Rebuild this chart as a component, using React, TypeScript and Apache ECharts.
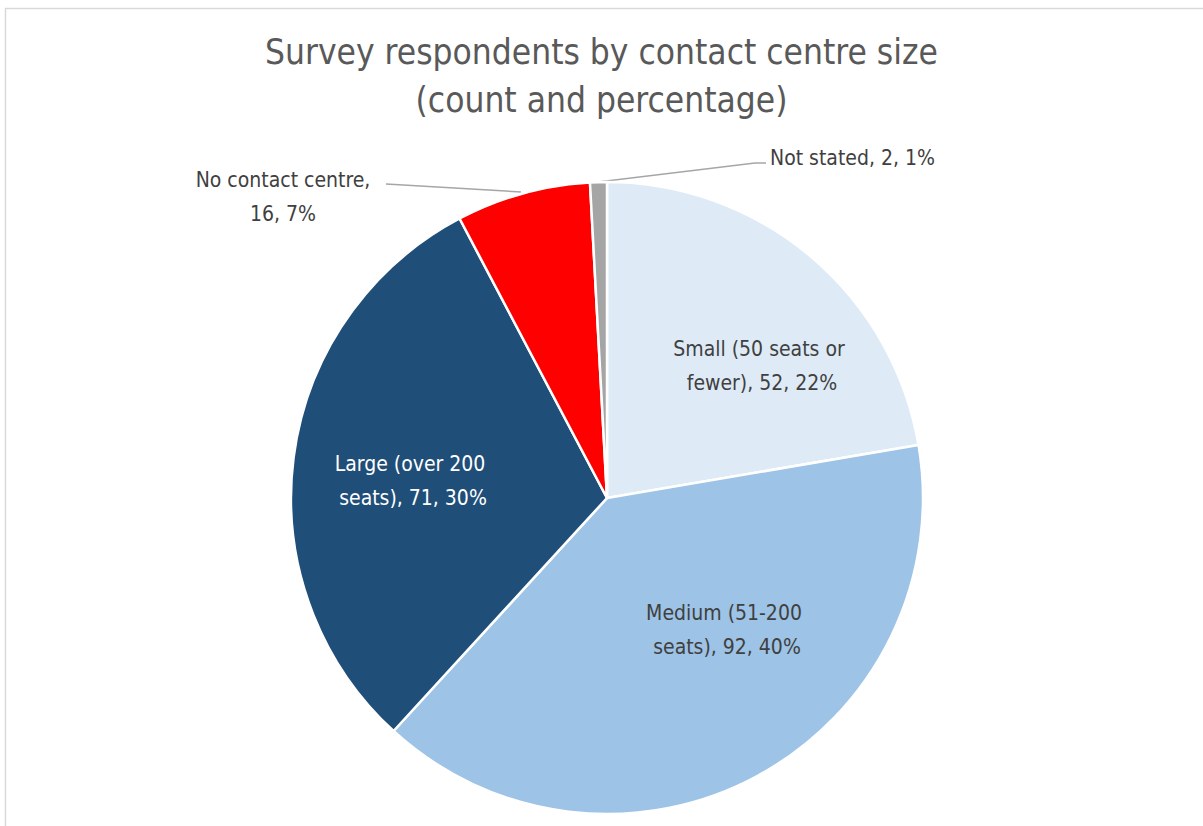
import React, { useEffect, useRef } from "react";
import * as echarts from "echarts";

const categories = [
  "Small (50 seats or fewer)",
  "Medium (51-200 seats)",
  "Large (over 200 seats)",
  "No contact centre",
  "Not stated",
];
const counts = [52, 92, 71, 16, 2];
const percents = [22, 40, 30, 7, 1];
const colors = ["#DEEBF7", "#9DC3E6", "#1F4E79", "#FF0000", "#A5A5A5"];
const labelColors = ["#404040", "#404040", "#FFFFFF", "#404040", "#404040"];
const labelWidths = [205, 175, 175, 300, 300];
const labelSeparators = [", ", ", ", ", ", ",\n", ", "];

const FONT = "'Liberation Sans Narrow', 'DejaVu Sans Condensed', sans-serif";

export default function App() {
  const ref = useRef<HTMLDivElement>(null);
  useEffect(() => {
    document.body.style.margin = "0";
    const chart = echarts.init(ref.current!, null, { renderer: "svg" });
    const cx = 607;
    const cy = 498;
    const R = 316;
    const labelPos: Record<number, any> = {
      0: { x: 762, y: 366, align: "center", verticalAlign: "middle" },
      1: { x: 727, y: 630, align: "center", verticalAlign: "middle" },
      2: { x: 413, y: 481, align: "center", verticalAlign: "middle" },
      3: {
        x: 283,
        y: 197,
        align: "center",
        verticalAlign: "middle",
        labelLinePoints: [
          [521, 192],
          [386, 184],
          [386, 184],
        ],
      },
      4: {
        x: 770,
        y: 158,
        align: "left",
        verticalAlign: "middle",
        labelLinePoints: [
          [598, 182],
          [755, 163],
          [766, 163],
        ],
      },
    };
    chart.setOption({
      animation: false,
      title: {
        text: "Survey respondents by contact centre size\n(count and percentage)",
        left: "center",
        top: 23,
        textStyle: {
          fontFamily: FONT,
          fontSize: 35,
          fontWeight: "normal",
          color: "#595959",
          lineHeight: 48,
        },
      },
      graphic: [
        {
          type: "rect",
          shape: { x: 5.5, y: 8.5, width: 1300, height: 900 },
          style: { fill: "none", stroke: "#D9D9D9", lineWidth: 1.5 },
          silent: true,
        },
      ],
      series: [
        {
          type: "pie",
          center: [cx, cy],
          radius: [0, R],
          startAngle: 90,
          clockwise: true,
          avoidLabelOverlap: false,
          itemStyle: { borderColor: "#FFFFFF", borderWidth: 2.5 },
          data: categories.map((name, i) => ({
            name,
            value: counts[i],
            itemStyle: { color: colors[i] },
            label: {
              position: i >= 3 ? "outside" : "inside",
              color: labelColors[i],
              width: labelWidths[i],
              overflow: "break",
            },
            labelLine: {
              show: i >= 3,
              lineStyle: { color: "#A6A6A6", width: 1.5 },
            },
          })),
          label: {
            show: true,
            fontFamily: FONT,
            fontSize: 21,
            lineHeight: 34,
            align: "center",
            formatter: (p: any) =>
              `${p.name}${labelSeparators[p.dataIndex]}${counts[p.dataIndex]}, ${percents[p.dataIndex]}%`,
          },
          labelLayout: (params: any) => labelPos[params.dataIndex] || {},
        },
      ],
    });
    return () => chart.dispose();
  }, []);
  return <div ref={ref} style={{ width: 1203, height: 826 }} />;
}
